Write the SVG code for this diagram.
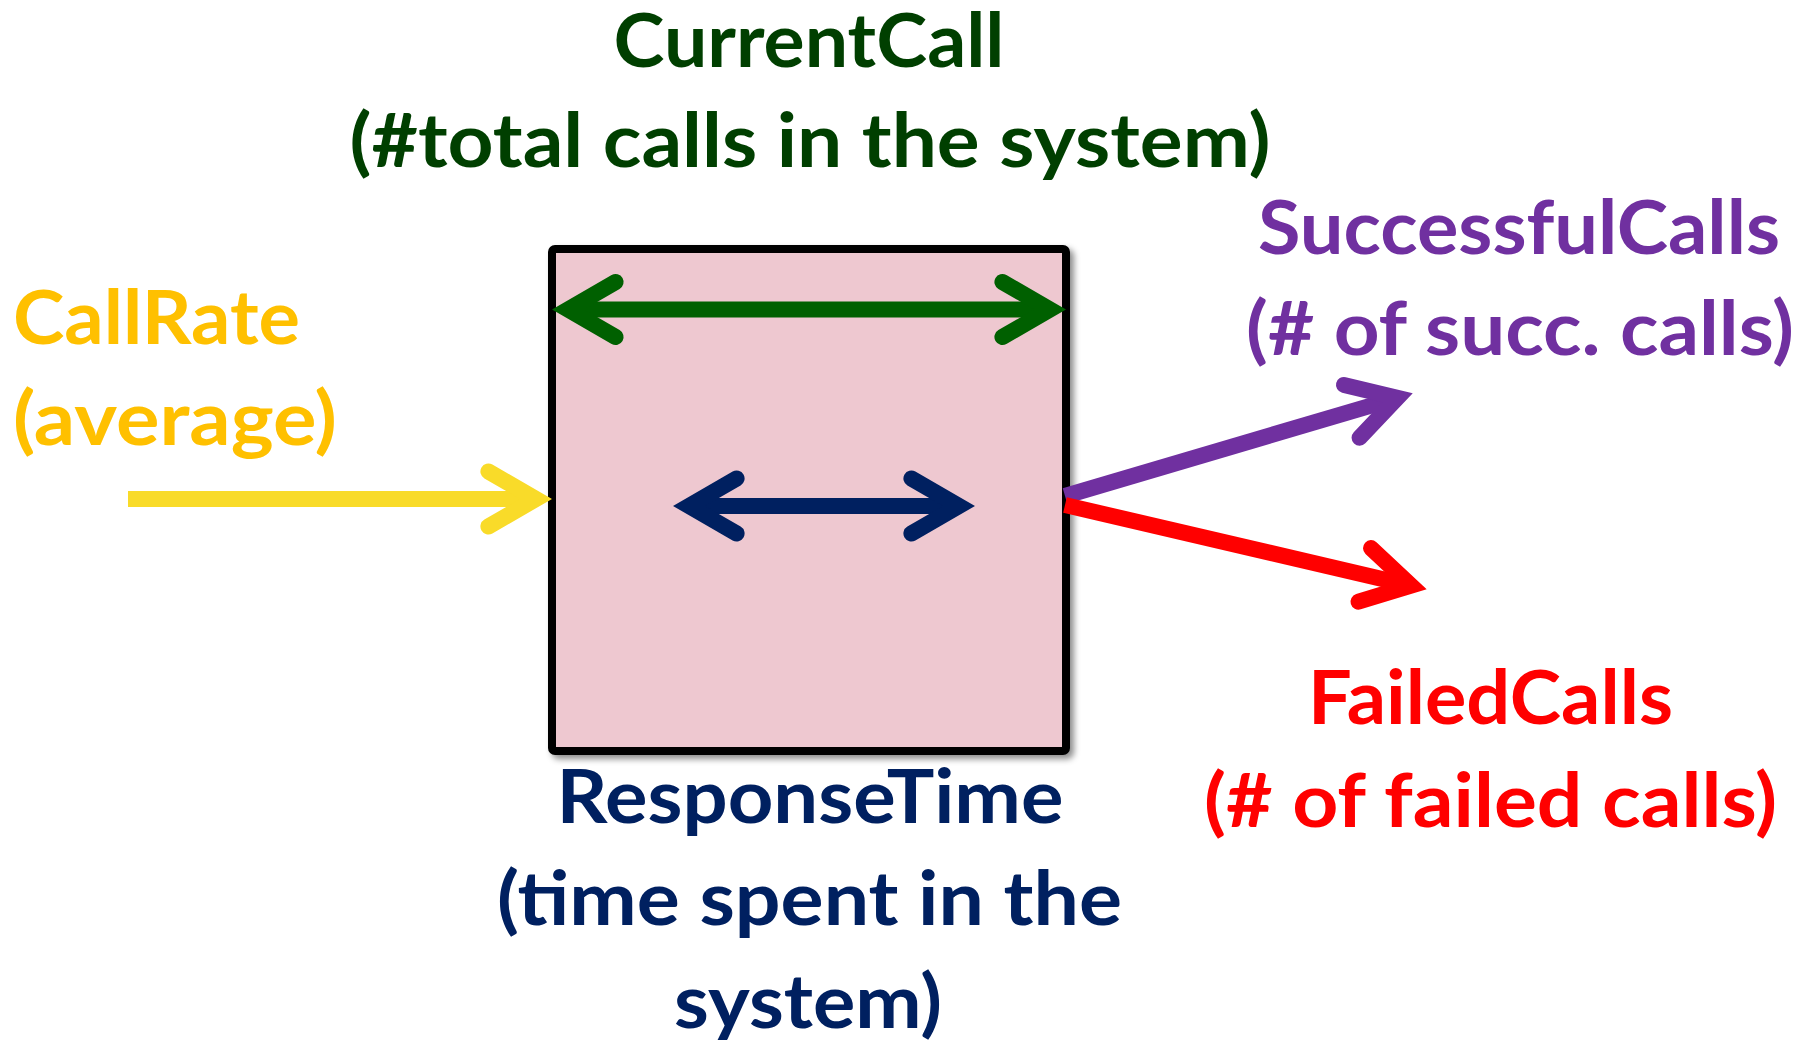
<svg xmlns="http://www.w3.org/2000/svg" width="1804" height="1040" viewBox="0 0 1804 1040">
  <style>
    .lbl { font-family: Lato, "Open Sans", "Liberation Sans", sans-serif; font-weight: 700; font-size: 75px; }
    .mid { text-anchor: middle; }
    .green { fill: #003F00; }
    .gold { fill: #FFC000; }
    .purple { fill: #7030A0; }
    .red { fill: #FF0000; }
    .navy { fill: #002060; }
    .shaft { fill: none; stroke-width: 16; stroke-linecap: butt; }
    .head { fill: none; stroke-width: 16; stroke-linecap: round; stroke-linejoin: miter; }
  </style>
  <defs>
    <filter id="boxShadow" x="-10%" y="-10%" width="120%" height="120%">
      <feGaussianBlur in="SourceAlpha" stdDeviation="3"/>
      <feOffset dx="4" dy="4" result="blur"/>
      <feFlood flood-color="#000" flood-opacity="0.45"/>
      <feComposite in2="blur" operator="in"/>
      <feMerge>
        <feMergeNode/>
        <feMergeNode in="SourceGraphic"/>
      </feMerge>
    </filter>
    <!-- open chevron heads; the shaft ends at the chevron vertex, the tip sits 16px beyond -->
    <marker id="headYellow" markerUnits="userSpaceOnUse" orient="auto" refX="0" refY="0" markerWidth="80" markerHeight="80" overflow="visible">
      <path class="head" stroke="#F9DB29" d="M -47.6 -27.5 L 0 0 L -47.6 27.5"/>
    </marker>
    <marker id="headGreen" markerUnits="userSpaceOnUse" orient="auto-start-reverse" refX="0" refY="0" markerWidth="80" markerHeight="80" overflow="visible">
      <path class="head" stroke="#006000" d="M -47.6 -27.5 L 0 0 L -47.6 27.5"/>
    </marker>
    <marker id="headNavy" markerUnits="userSpaceOnUse" orient="auto-start-reverse" refX="0" refY="0" markerWidth="80" markerHeight="80" overflow="visible">
      <path class="head" stroke="#002060" d="M -47.6 -27.5 L 0 0 L -47.6 27.5"/>
    </marker>
    <marker id="headPurple" markerUnits="userSpaceOnUse" orient="auto" refX="0" refY="0" markerWidth="80" markerHeight="80" overflow="visible">
      <path class="head" stroke="#7030A0" d="M -47.6 -27.5 L 0 0 L -47.6 27.5"/>
    </marker>
    <marker id="headRed" markerUnits="userSpaceOnUse" orient="auto" refX="0" refY="0" markerWidth="80" markerHeight="80" overflow="visible">
      <path class="head" stroke="#FF0000" d="M -47.6 -27.5 L 0 0 L -47.6 27.5"/>
    </marker>
  </defs>

  <rect width="1804" height="1040" fill="#FFFFFF"/>

  <!-- the system -->
  <g id="system">
    <rect x="552" y="249" width="514" height="502" rx="3" fill="#EEC8D0" stroke="#000000" stroke-width="8" filter="url(#boxShadow)"/>
  </g>

  <!-- labels -->
  <g id="current-call">
    <text class="lbl mid green" x="809" y="67" textLength="391" lengthAdjust="spacingAndGlyphs">CurrentCall</text>
    <text class="lbl mid green" x="810" y="167" textLength="921" lengthAdjust="spacingAndGlyphs">(#total calls in the system)</text>
  </g>
  <g id="call-rate">
    <text class="lbl gold" x="13" y="344" textLength="287" lengthAdjust="spacingAndGlyphs">CallRate</text>
    <text class="lbl gold" x="13" y="445" textLength="324" lengthAdjust="spacingAndGlyphs">(average)</text>
  </g>
  <g id="successful-calls">
    <text class="lbl mid purple" x="1519" y="254" textLength="522" lengthAdjust="spacingAndGlyphs">SuccessfulCalls</text>
    <text class="lbl mid purple" x="1520" y="355" textLength="548" lengthAdjust="spacingAndGlyphs">(# of succ. calls)</text>
  </g>
  <g id="failed-calls">
    <text class="lbl mid red" x="1490.5" y="724" textLength="365" lengthAdjust="spacingAndGlyphs">FailedCalls</text>
    <text class="lbl mid red" x="1490.5" y="827" textLength="573" lengthAdjust="spacingAndGlyphs">(# of failed calls)</text>
  </g>
  <g id="response-time">
    <text class="lbl mid navy" x="810" y="823" textLength="507" lengthAdjust="spacingAndGlyphs">ResponseTime</text>
    <text class="lbl mid navy" x="809.5" y="925" textLength="625" lengthAdjust="spacingAndGlyphs">(time spent in the</text>
    <text class="lbl mid navy" x="808" y="1028" textLength="268" lengthAdjust="spacingAndGlyphs">system)</text>
  </g>

  <!-- connectors -->
  <g id="connectors">
    <line class="shaft" stroke="#F9DB29" x1="128" y1="499" x2="536" y2="499" marker-end="url(#headYellow)"/>
    <line class="shaft" stroke="#006000" x1="568" y1="309.5" x2="1050" y2="309.5" marker-start="url(#headGreen)" marker-end="url(#headGreen)"/>
    <line class="shaft" stroke="#002060" x1="689" y1="506" x2="959" y2="506" marker-start="url(#headNavy)" marker-end="url(#headNavy)"/>
    <line class="shaft" stroke="#7030A0" x1="1065" y1="496" x2="1397.4" y2="397.8" marker-end="url(#headPurple)"/>
    <line class="shaft" stroke="#FF0000" x1="1065" y1="505" x2="1411.1" y2="585.7" marker-end="url(#headRed)"/>
  </g>
</svg>
